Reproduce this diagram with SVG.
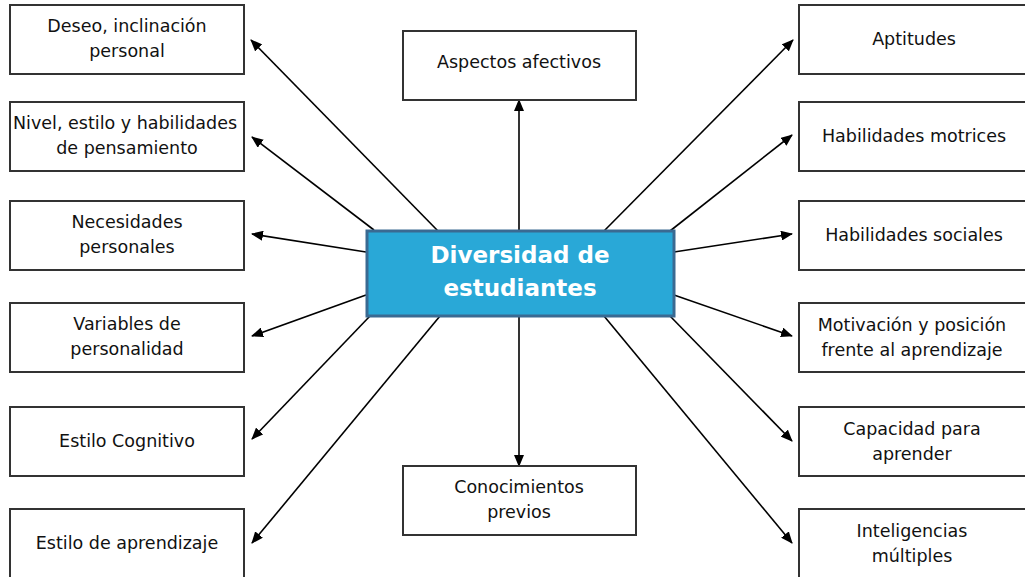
<svg xmlns="http://www.w3.org/2000/svg" width="1025" height="577" viewBox="0 0 1025 577">
<style>
.box{fill:#fff;stroke:#333;stroke-width:2}
.t{font-family:"DejaVu Sans","Liberation Sans",sans-serif;font-size:17.5px;fill:#111;text-anchor:middle}
.c{font-family:"DejaVu Sans","Liberation Sans",sans-serif;font-size:23px;font-weight:bold;fill:#fff;text-anchor:middle}
.ln{stroke:#000;stroke-width:1.6;fill:none;marker-end:url(#ah)}
</style>
<defs>
<marker id="ah" viewBox="0 0 12 10" refX="11" refY="5" markerWidth="12" markerHeight="10" orient="auto" markerUnits="userSpaceOnUse">
<path d="M0,0 L12,5 L0,10 z" fill="#000"/>
</marker>
</defs>
<rect width="1025" height="577" fill="#fff"/>
<g id="connectors">
<line class="ln" x1="438" y1="231" x2="251" y2="40"/>
<line class="ln" x1="374" y1="230" x2="252" y2="137"/>
<line class="ln" x1="366" y1="252" x2="252" y2="234"/>
<line class="ln" x1="366" y1="295" x2="252" y2="336"/>
<line class="ln" x1="370" y1="316" x2="252" y2="439"/>
<line class="ln" x1="440" y1="316" x2="252" y2="543"/>
<line class="ln" x1="519" y1="231" x2="519" y2="100"/>
<line class="ln" x1="519" y1="316" x2="519" y2="466"/>
<line class="ln" x1="604" y1="231" x2="793" y2="40"/>
<line class="ln" x1="670" y1="231" x2="792" y2="135"/>
<line class="ln" x1="674" y1="252" x2="792" y2="234"/>
<line class="ln" x1="674" y1="295" x2="792" y2="336"/>
<line class="ln" x1="670" y1="316" x2="792" y2="441"/>
<line class="ln" x1="604" y1="316" x2="792" y2="543"/>
</g>
<g id="center">
<rect x="367" y="231" width="307" height="85" fill="#29a8d7" stroke="#3a6a92" stroke-width="3"/>
<text class="c" x="520" y="263">Diversidad de</text>
<text class="c" x="520" y="296">estudiantes</text>
</g>
<g id="aspectos"><rect class="box" x="403" y="31" width="233" height="69"/><text class="t" x="519" y="68">Aspectos afectivos</text></g>
<g id="conocimientos"><rect class="box" x="403" y="466" width="233" height="69"/><text class="t" x="519" y="493">Conocimientos</text><text class="t" x="519" y="518">previos</text></g>
<g id="deseo"><rect class="box" x="10" y="5" width="234" height="69"/><text class="t" x="127" y="32">Deseo, inclinación</text><text class="t" x="127" y="57">personal</text></g>
<g id="nivel"><rect class="box" x="10" y="102" width="234" height="69"/><text class="t" x="125" y="129">Nivel, estilo y habilidades</text><text class="t" x="127" y="154">de pensamiento</text></g>
<g id="necesidades"><rect class="box" x="10" y="201" width="234" height="69"/><text class="t" x="127" y="228">Necesidades</text><text class="t" x="127" y="253">personales</text></g>
<g id="variables"><rect class="box" x="10" y="303" width="234" height="69"/><text class="t" x="127" y="330">Variables de</text><text class="t" x="127" y="355">personalidad</text></g>
<g id="cognitivo"><rect class="box" x="10" y="407" width="234" height="69"/><text class="t" x="127" y="447">Estilo Cognitivo</text></g>
<g id="aprendizaje"><rect class="box" x="10" y="509" width="234" height="75"/><text class="t" x="127" y="549">Estilo de aprendizaje</text></g>
<g id="aptitudes"><rect class="box" x="799" y="5" width="240" height="69"/><text class="t" x="914" y="45">Aptitudes</text></g>
<g id="motrices"><rect class="box" x="799" y="102" width="240" height="69"/><text class="t" x="914" y="142">Habilidades motrices</text></g>
<g id="sociales"><rect class="box" x="799" y="201" width="240" height="69"/><text class="t" x="914" y="241">Habilidades sociales</text></g>
<g id="motivacion"><rect class="box" x="799" y="303" width="240" height="69"/><text class="t" x="912" y="331">Motivación y posición</text><text class="t" x="912" y="356">frente al aprendizaje</text></g>
<g id="capacidad"><rect class="box" x="799" y="407" width="240" height="69"/><text class="t" x="912" y="435">Capacidad para</text><text class="t" x="912" y="460">aprender</text></g>
<g id="inteligencias"><rect class="box" x="799" y="509" width="240" height="75"/><text class="t" x="912" y="537">Inteligencias</text><text class="t" x="912" y="562">múltiples</text></g>
</svg>
